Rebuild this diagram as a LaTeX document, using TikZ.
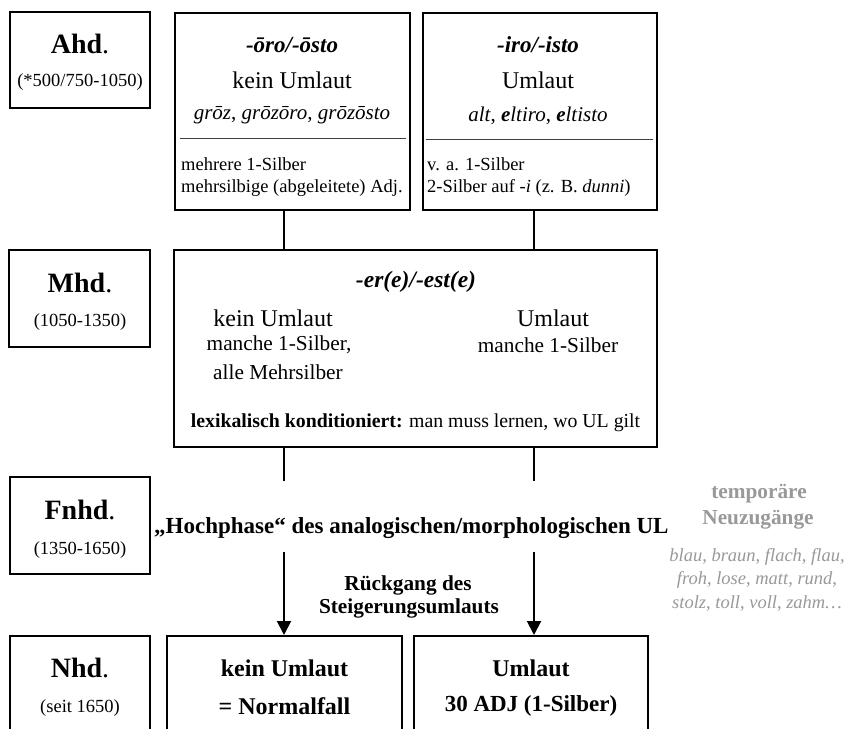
\documentclass[tikz,border=0pt]{standalone}
\usepackage{fontspec}
\setmainfont{Liberation Serif}
\usetikzlibrary{arrows.meta}
\newcommand\fsBig{\fontsize{24}{28}\selectfont}
\newcommand\fsHead{\fontsize{28}{32}\selectfont}
\newcommand\fsTit{\fontsize{23}{27}\selectfont}
\newcommand\fsIt{\fontsize{21}{25}\selectfont}
\newcommand\fsSm{\fontsize{18.5}{22}\selectfont}
\newcommand\fsMhd{\fontsize{21.3}{25}\selectfont}
\newcommand\fsLex{\fontsize{19.8}{23}\selectfont}
\newcommand\fsMid{\fontsize{21.3}{25}\selectfont}
\definecolor{lightgr}{HTML}{999999}
\tikzset{
  box/.style={draw, line width=2.3pt, rectangle, inner sep=0pt},
  txt/.style={inner sep=0pt, anchor=center},
  txtl/.style={inner sep=0pt, anchor=west},
  conn/.style={line width=2pt},
  arr/.style={line width=2pt, -{Triangle[width=14pt,length=14pt]}},
  sep/.style={line width=0.7pt, black!75},
  grayt/.style={txt, text=lightgr},
}
\begin{document}
\begin{tikzpicture}[x=1pt,y=-1pt]
\useasboundingbox (0,0) rectangle (848,728);
\fill[white] (0,0) rectangle (848,728);
\begin{scope}
\clip (0,0) rectangle (848,728);
% row 1
\node[box, minimum width=140pt, minimum height=96pt] (ahd) at (80,60) {};
\node[txt] (ahdT) at (80,44) {\fsHead\textbf{Ahd}.};
\node[txt] (ahdD) at (80,82) {\fsSm(*500/750-1050)};

\node[box, minimum width=235pt, minimum height=197pt] (oro) at (292.5,111.5) {};
\node[txt] (oroT) at (292,45) {\fsTit\textbf{\textit{-ōro/-ōsto}}};
\node[txt] (oroU) at (292,80) {\fsBig kein Umlaut};
\node[txt] (oroE) at (292,115) {\fsIt\textit{grōz}, \textit{grōzōro}, \textit{grōzōsto}};
\coordinate (oroSa) at (180,138); \coordinate (oroSb) at (406,138);
\draw[sep] (oroSa) -- (oroSb);
\node[txtl] (oroL1) at (181,164) {\fsSm mehrere 1-Silber};
\node[txtl] (oroL2) at (181,188) {\fsSm mehrsilbige (abgeleitete) Adj.};

\node[box, minimum width=234pt, minimum height=197pt] (iro) at (540,111.5) {};
\node[txt] (iroT) at (538,45) {\fsTit\textbf{\textit{-iro/-isto}}};
\node[txt] (iroU) at (538,80) {\fsBig Umlaut};
\node[txt] (iroE) at (538,116) {\fsIt\textit{alt}, \textit{\textbf{e}ltiro}, \textit{\textbf{e}ltisto}};
\coordinate (iroSa) at (426,139); \coordinate (iroSb) at (653,139);
\draw[sep] (iroSa) -- (iroSb);
\node[txtl] (iroL1) at (427,164) {\fsSm v. a. 1-Silber};
\node[txtl] (iroL2) at (427,188) {\fsSm 2-Silber auf -\textit{i} (z. B. \textit{dunni})};

% row 2
\node[box, minimum width=141pt, minimum height=97pt] (mhd) at (79.5,298.5) {};
\node[txt] (mhdT) at (80,283) {\fsHead\textbf{Mhd}.};
\node[txt] (mhdD) at (80,322) {\fsSm(1050-1350)};

\node[box, minimum width=483pt, minimum height=197pt] (mid) at (415.5,348.5) {};
\node[txt] (midT) at (416,282) {\fontsize{23.5}{27}\selectfont\textbf{\textit{-er(e)/-est(e)}}};
\node[txt] (midK) at (273,318) {\fsBig kein Umlaut};
\node[txt] (midK1) at (279,345) {\fsMhd manche 1-Silber,};
\node[txt] (midK2) at (278,372) {\fsMhd alle Mehrsilber};
\node[txt] (midU) at (553,318) {\fsBig Umlaut};
\node[txt] (midU1) at (548,345) {\fsMhd manche 1-Silber};
\node[txt] (midL) at (415.5,423) {\fsLex\textbf{lexikalisch konditioniert:} man muss lernen, wo UL gilt};

\coordinate (c1a) at (284,210); \coordinate (c1b) at (284,250);
\coordinate (c2a) at (534,210); \coordinate (c2b) at (534,250);
\draw[conn] (c1a) -- (c1b);
\draw[conn] (c2a) -- (c2b);

% row 3
\node[box, minimum width=140pt, minimum height=97pt] (fnhd) at (80,525.5) {};
\node[txt] (fnhdT) at (80,510) {\fsHead\textbf{Fnhd}.};
\node[txt] (fnhdD) at (80,550) {\fsSm(1350-1650)};

\coordinate (c3a) at (284,447); \coordinate (c3b) at (284,481);
\coordinate (c4a) at (534,447); \coordinate (c4b) at (534,481);
\draw[conn] (c3a) -- (c3b);
\draw[conn] (c4a) -- (c4b);

\node[txtl] (hoch) at (154,528) {\fsTit\textbf{„Hochphase“ des analogischen/morphologischen UL}};

\node[grayt] (temp1) at (759,494) {\fsMid\textbf{temporäre}};
\node[grayt] (temp2) at (758,520) {\fsMid\textbf{Neuzugänge}};
\node[grayt] (li1) at (757,557) {\fsSm\textit{blau}, \textit{braun}, \textit{flach}, \textit{flau},};
\node[grayt] (li2) at (757,580) {\fsSm\textit{froh}, \textit{lose}, \textit{matt}, \textit{rund},};
\node[grayt] (li3) at (757,603) {\fsSm\textit{stolz}, \textit{toll}, \textit{voll}, \textit{zahm…}};

\node[txt] (rueck1) at (408,585) {\fsMid\textbf{Rückgang des}};
\node[txt] (rueck2) at (409,608) {\fsMid\textbf{Steigerungsumlauts}};

% row 4
\node[box, minimum width=140pt, minimum height=145pt, anchor=north] (nhd) at (80,635) {};
\node[txt] (nhdT) at (80,668) {\fsHead\textbf{Nhd}.};
\node[txt] (nhdD) at (80,708) {\fsSm(seit 1650)};

\node[box, minimum width=235pt, minimum height=145pt, anchor=north] (kein) at (284.5,635) {};
\node[txt] (keinA) at (284.5,668) {\fsBig\textbf{kein Umlaut}};
\node[txt] (keinB) at (284.5,706) {\fsBig\textbf{= Normalfall}};

\node[box, minimum width=234pt, minimum height=145pt, anchor=north] (uml) at (531,635) {};
\node[txt] (umlA) at (531,668) {\fsBig\textbf{Umlaut}};
\node[txt] (umlB) at (531,706) {\fsTit\textbf{30 ADJ (1-Silber)}};

\coordinate (a1) at (284,552);
\coordinate (a2) at (534,552);
\draw[arr] (a1) -- (a1 |- kein.north);
\draw[arr] (a2) -- (a2 |- uml.north);
\end{scope}
\end{tikzpicture}
\end{document}
